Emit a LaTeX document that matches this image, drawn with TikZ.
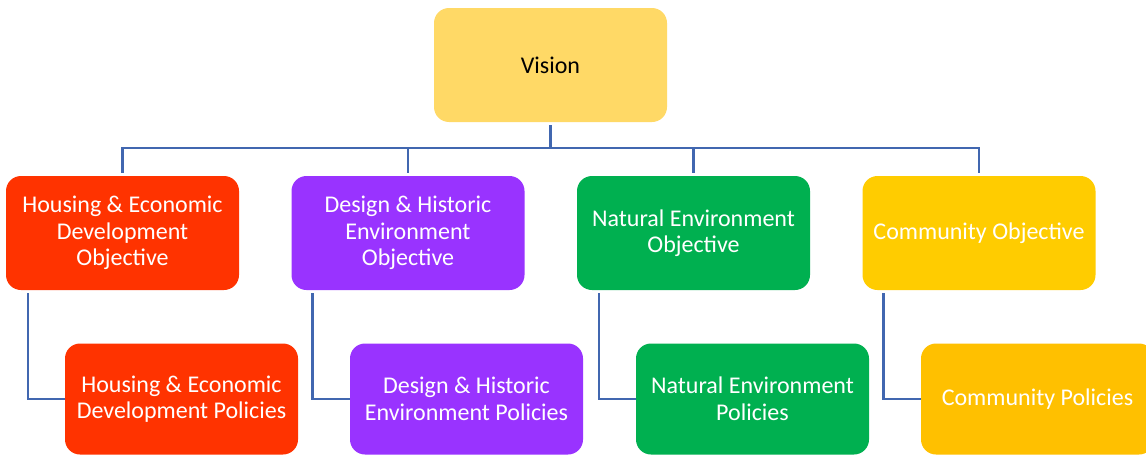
\documentclass[tikz,border=0pt]{standalone}
\usepackage{fontspec}
\setmainfont{Carlito}
\definecolor{visionc}{HTML}{FFD966}
\definecolor{housc}{HTML}{FF3300}
\definecolor{desc}{HTML}{9933FF}
\definecolor{natc}{HTML}{00B050}
\definecolor{comoc}{HTML}{FFCC00}
\definecolor{compc}{HTML}{FFC000}
\definecolor{linec}{HTML}{4167B0}
\tikzset{
  box/.style={rounded corners=15pt, minimum width=233pt, minimum height=114pt,
    inner sep=2pt, align=center, text=white,
    font=\fontsize{24}{26.5}\selectfont},
  conn/.style={draw=linec, line width=2.5pt}
}
\begin{document}
\begin{tikzpicture}[x=1pt,y=-1pt]
\clip (0,0) rectangle (1146,455);
\fill[white] (0,0) rectangle (1146,455);
\node[box, fill=visionc, text=black] (vis) at (550.5,65) {Vision};
\node[box, fill=housc] (ho) at (122.5,233) {Housing \& Economic\\Development\\Objective};
\node[box, fill=desc] (do) at (408,233) {Design \& Historic\\Environment\\Objective};
\node[box, fill=natc] (no) at (693.5,233) {Natural Environment\\Objective};
\node[box, fill=comoc] (co) at (979,233) {Community Objective};
\node[box, fill=housc, minimum height=111pt] (hp) at (181.5,399) {Housing \& Economic\\Development Policies};
\node[box, fill=desc, minimum height=111pt] (dp) at (466.5,399) {Design \& Historic\\Environment Policies};
\node[box, fill=natc, minimum height=111pt] (np) at (752.5,399) {Natural Environment\\Policies};
\node[box, fill=compc, minimum height=111pt] (cp) at (1037.5,399) {Community Policies};
\coordinate (bus) at (550.5,148);
\draw[conn] ([yshift=-3pt]vis.south) -- (bus);
\draw[conn] ([yshift=3pt]ho.north) |- (bus) -| ([yshift=3pt]co.north);
\draw[conn] ([yshift=3pt]do.north) -- (do.north |- bus);
\draw[conn] ([yshift=3pt]no.north) -- (no.north |- bus);
\draw[conn] ([xshift=22pt,yshift=-3pt]ho.south west) |- (hp.west);
\draw[conn] ([xshift=21pt,yshift=-3pt]do.south west) |- (dp.west);
\draw[conn] ([xshift=22pt,yshift=-3pt]no.south west) |- (np.west);
\draw[conn] ([xshift=21pt,yshift=-3pt]co.south west) |- (cp.west);
\end{tikzpicture}
\end{document}
